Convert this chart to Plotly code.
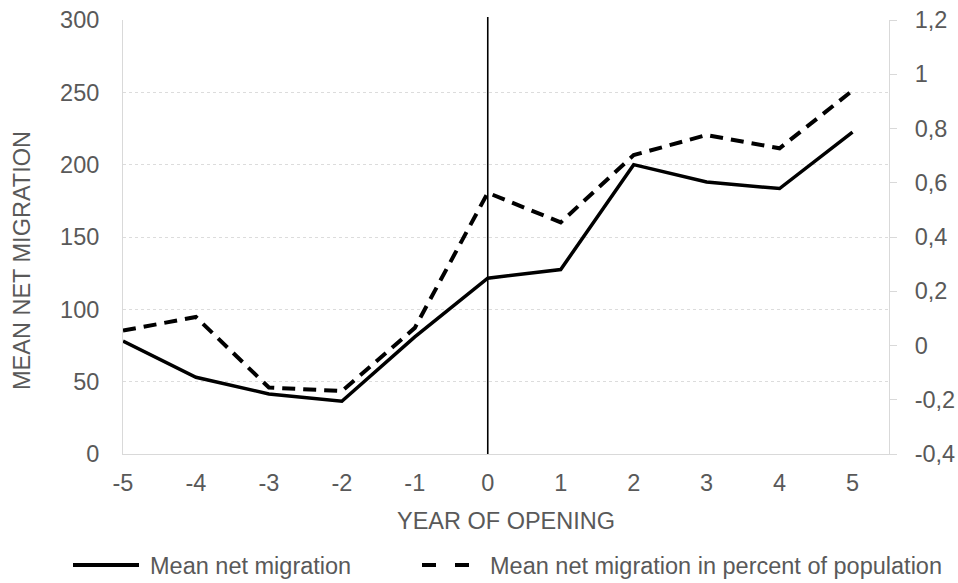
import plotly.graph_objects as go

# Years relative to opening
years = [-5, -4, -3, -2, -1, 0, 1, 2, 3, 4, 5]
year_labels = ["-5", "-4", "-3", "-2", "-1", "0", "1", "2", "3", "4", "5"]

# Mean net migration (left axis)
net_migration = [78, 53, 41.5, 36.5, 81, 121.5, 127.5, 200, 188, 183.5, 222.5]
# Mean net migration in percent of population (right axis)
net_migration_pct = [0.055, 0.105, -0.155, -0.168, 0.065, 0.563, 0.454, 0.702, 0.776, 0.727, 0.94]

left_ticks = [0, 50, 100, 150, 200, 250, 300]
right_ticks = [-0.4, -0.2, 0, 0.2, 0.4, 0.6, 0.8, 1.0, 1.2]
right_labels = ["-0,4", "-0,2", "0", "0,2", "0,4", "0,6", "0,8", "1", "1,2"]

series_names = ["Mean net migration", "Mean net migration in percent of population"]

FONT = "Liberation Sans, Arial, sans-serif"
GREY = "#595959"
FS = 23.5

# plot area in pixels
W, H = 958, 583
L, R, T, B = 123, 69, 20, 129
PW, PH = W - L - R, H - T - B


def px(xp):
    return (xp - L) / PW


def py(yp):
    return (H - B - yp) / PH


fig = go.Figure()

fig.add_trace(go.Scatter(
    x=years, y=net_migration, name=series_names[0],
    mode="lines", line=dict(color="black", width=3.5),
    yaxis="y", showlegend=False,
))
fig.add_trace(go.Scatter(
    x=years, y=net_migration_pct, name=series_names[1],
    mode="lines", line=dict(color="black", width=4, dash="13px,8px"),
    yaxis="y2", showlegend=False,
))

# vertical marker at the opening year
fig.add_shape(type="line", xref="x", yref="paper", x0=0, x1=0, y0=0, y1=1.007,
              line=dict(color="black", width=1.6))

# legend row below the chart
fig.add_shape(type="line", xref="paper", yref="paper",
              x0=px(73), x1=px(139), y0=py(565), y1=py(565),
              line=dict(color="black", width=4))
fig.add_shape(type="line", xref="paper", yref="paper",
              x0=px(422), x1=px(469), y0=py(565), y1=py(565),
              line=dict(color="black", width=4, dash="14px,19px"))
fig.add_annotation(text=series_names[0], xref="paper", yref="paper",
                   x=px(148), y=py(566), xanchor="left", yanchor="middle",
                   showarrow=False, font=dict(family=FONT, size=FS, color=GREY))
fig.add_annotation(text=series_names[1], xref="paper", yref="paper",
                   x=px(488), y=py(566), xanchor="left", yanchor="middle",
                   showarrow=False, font=dict(family=FONT, size=FS, color=GREY))

# left axis title
fig.add_annotation(text="MEAN NET MIGRATION", xref="paper", yref="paper",
                   x=px(22), y=py(261), xanchor="center", yanchor="middle",
                   textangle=-90, showarrow=False,
                   font=dict(family=FONT, size=FS, color=GREY))

fig.update_layout(
    width=W, height=H,
    margin=dict(l=L, r=R, t=T, b=B, autoexpand=False),
    paper_bgcolor="white", plot_bgcolor="white",
    font=dict(family=FONT, size=FS, color=GREY),
    showlegend=False,
    xaxis=dict(
        range=[-5, 5.5], tickmode="array", tickvals=years, ticktext=year_labels,
        showgrid=False, zeroline=False, automargin=False,
        showline=True, linecolor="#d9d9d9", linewidth=1,
        ticks="", ticklabelstandoff=8,
        title=dict(text="YEAR OF OPENING", standoff=17,
                   font=dict(family=FONT, size=FS, color=GREY)),
    ),
    yaxis=dict(
        range=[0, 300], tickmode="array", tickvals=left_ticks,
        showgrid=True, gridcolor="#dcdcdc", griddash="dot", gridwidth=1,
        zeroline=False, automargin=False,
        showline=True, linecolor="#d9d9d9", linewidth=1,
        ticks="", ticklabelstandoff=18,
    ),
    yaxis2=dict(
        range=[-0.4, 1.2], tickmode="array", tickvals=right_ticks, ticktext=right_labels,
        overlaying="y", side="right", automargin=False,
        showgrid=False, zeroline=False,
        showline=True, linecolor="#d9d9d9", linewidth=1,
        ticks="outside", ticklen=7, tickcolor="#d9d9d9",
        ticklabelstandoff=13,
    ),
)

fig.write_html("out.html")
